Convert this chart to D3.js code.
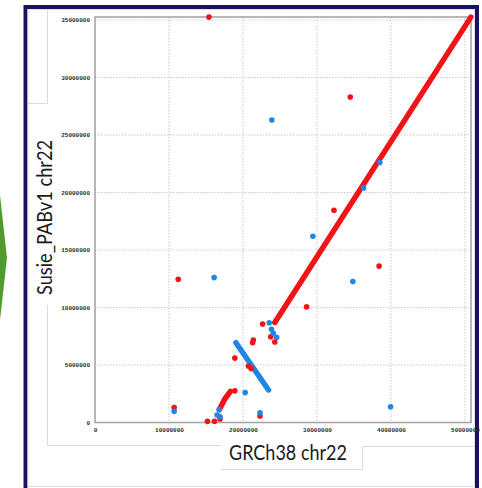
<!DOCTYPE html>
<html>
<head>
<meta charset="utf-8">
<script src="https://cdn.jsdelivr.net/npm/d3@7"></script>
<style>
  html, body { margin: 0; padding: 0; background: #fff; }
  svg { display: block; }
</style>
</head>
<body>
<svg id="dot" width="482" height="488"></svg>
<script>
// all positions in base pairs
var xTicks = [0, 10000000, 20000000, 30000000, 40000000, 50000000];
var yTicks = [0, 5000000, 10000000, 15000000, 20000000, 25000000, 30000000, 35000000];
var xMax = 50818468;   // GRCh38 chr22
var yMax = 35260000;   // Susie_PABv1 chr22

// long runs of matches, drawn as polylines [x, y]
var redRuns = [
    [[24300000, 8700000], [50800000, 35250000]],
    [[16800000, 1100000], [17500000, 2000000], [18300000, 2700000]]
];
var blueRuns = [
    [[19050000, 6940000], [23450000, 2830000]]
];

// single hits [x, y]
var redHits = [
    [15400000, 35250000], [34500000, 28300000], [32300000, 18450000],
    [38400000, 13600000], [28600000, 10050000], [11250000, 12450000],
    [10700000, 1300000], [15200000, 100000], [16150000, 100000],
    [16900000, 300000], [18900000, 2750000], [18900000, 5600000],
    [20750000, 4900000], [21100000, 4700000], [21400000, 7170000],
    [21300000, 6940000], [22650000, 8570000], [23750000, 7460000],
    [24300000, 7000000], [22300000, 560000]
];
var blueHits = [
    [23900000, 26300000], [16100000, 12600000], [29450000, 16200000],
    [34850000, 12250000], [39950000, 1370000], [38500000, 22600000],
    [36300000, 20400000], [10700000, 970000], [16800000, 1150000],
    [16500000, 650000], [16900000, 500000], [20300000, 2600000],
    [22300000, 850000], [23550000, 8680000], [23850000, 8100000],
    [24100000, 7760000], [24550000, 7400000]
];

var red = "#f21317", blue = "#1e86e4";

var svg = d3.select("#dot");

// slide frame and scraps round it
svg.append("path")
    .attr("d", "M0,195 L7,258 L0,320 Z")
    .attr("fill", "#4f9b2d");

svg.append("rect")
    .attr("x", 25.5).attr("y", 7)
    .attr("width", 451.5).attr("height", 500)
    .attr("fill", "#fff")
    .attr("stroke", "#1c1259")
    .attr("stroke-width", 4);
svg.append("rect")
    .attr("x", 28).attr("y", 9.5)
    .attr("width", 446.5).attr("height", 477)
    .attr("fill", "none")
    .attr("stroke", "#dedbee")
    .attr("stroke-width", 1);

svg.append("path")
    .attr("d", "M47.5,9 V103.5 H28 M47.5,305 V445.5 H221 M221,469.5 H362.5 V446.5 H475")
    .attr("fill", "none")
    .attr("stroke", "#dadada")
    .attr("stroke-width", 1);

var x = d3.scaleLinear().domain([0, xMax]).range([95, 471]);
var y = d3.scaleLinear().domain([0, yMax]).range([422.5, 17]);

var plot = svg.append("g");

// grid
plot.selectAll(".gx")
    .data(xTicks.slice(1))
    .enter()
    .append("line")
    .attr("x1", d => x(d)).attr("x2", d => x(d))
    .attr("y1", y(yMax)).attr("y2", y(0))
    .attr("stroke", "#c9c9c9")
    .attr("stroke-dasharray", "1.5,1.5");
plot.selectAll(".gy")
    .data(yTicks.slice(1))
    .enter()
    .append("line")
    .attr("x1", x(0)).attr("x2", x(xMax))
    .attr("y1", d => y(d)).attr("y2", d => y(d))
    .attr("stroke", "#c9c9c9")
    .attr("stroke-dasharray", "1.5,1.5");

// box
plot.append("rect")
    .attr("x", x(0)).attr("y", y(yMax))
    .attr("width", x(xMax) - x(0))
    .attr("height", y(0) - y(yMax))
    .attr("fill", "none")
    .attr("stroke", "#a6a6a6")
    .attr("stroke-width", 1.6);

// axes
var xAxis = d3.axisBottom(x).tickValues(xTicks).tickSize(0).tickPadding(5).tickFormat(d3.format("d"));
var yAxis = d3.axisLeft(y).tickValues(yTicks).tickSize(0).tickPadding(5).tickFormat(d3.format("d"));

svg.append("g")
    .attr("transform", "translate(0," + y(0) + ")")
    .call(xAxis)
    .call(g => g.select(".domain").remove());
svg.append("g")
    .attr("transform", "translate(" + x(0) + ",0)")
    .call(yAxis)
    .call(g => g.select(".domain").remove());

svg.selectAll(".tick text")
    .attr("font-family", "Liberation Mono")
    .attr("font-weight", "bold")
    .attr("font-size", 6)
    .attr("fill", "#2a2a2a");

// match runs
var line = d3.line().x(d => x(d[0])).y(d => y(d[1]));

plot.selectAll(".run-red")
    .data(redRuns)
    .enter()
    .append("path")
    .attr("d", line)
    .attr("fill", "none")
    .attr("stroke", red)
    .attr("stroke-width", 5.5)
    .attr("stroke-linecap", "round")
    .attr("stroke-linejoin", "round");
plot.selectAll(".run-blue")
    .data(blueRuns)
    .enter()
    .append("path")
    .attr("d", line)
    .attr("fill", "none")
    .attr("stroke", blue)
    .attr("stroke-width", 5.5)
    .attr("stroke-linecap", "round");

// single hits
plot.selectAll(".hit-red")
    .data(redHits)
    .enter()
    .append("circle")
    .attr("cx", d => x(d[0]))
    .attr("cy", d => y(d[1]))
    .attr("r", 2.8)
    .attr("fill", red);
plot.selectAll(".hit-blue")
    .data(blueHits)
    .enter()
    .append("circle")
    .attr("cx", d => x(d[0]))
    .attr("cy", d => y(d[1]))
    .attr("r", 2.8)
    .attr("fill", blue);

// titles
svg.append("text")
    .attr("x", 229)
    .attr("y", 460)
    .attr("font-family", "Lato")
    .attr("font-size", 21)
    .attr("textLength", 118)
    .attr("lengthAdjust", "spacingAndGlyphs")
    .attr("fill", "#1a1a1a")
    .text("GRCh38 chr22");

svg.append("text")
    .attr("transform", "translate(52,295) rotate(-90)")
    .attr("font-family", "Lato")
    .attr("font-size", 21)
    .attr("textLength", 155)
    .attr("lengthAdjust", "spacingAndGlyphs")
    .attr("fill", "#1a1a1a")
    .text("Susie_PABv1 chr22");
</script>
</body>
</html>
